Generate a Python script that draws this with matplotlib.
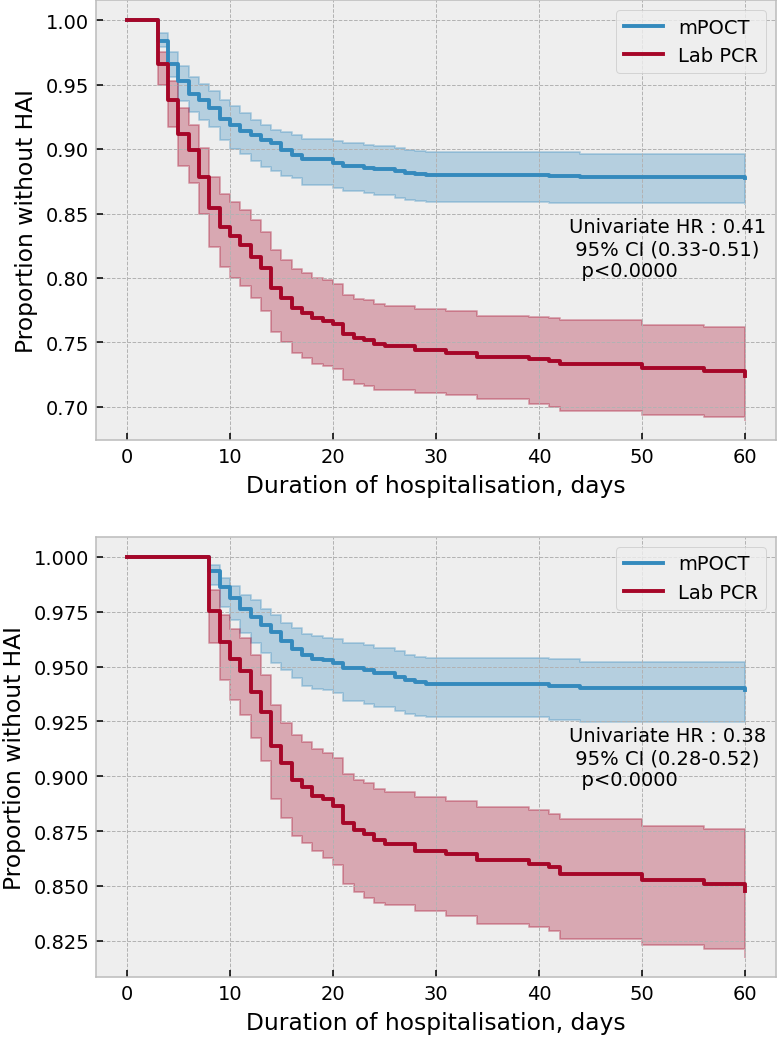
import matplotlib
matplotlib.use("Agg")
import matplotlib.pyplot as plt

# ---------------------------------------------------------------------------
# Kaplan-Meier estimates (step changes only, post steps)
# ---------------------------------------------------------------------------

# top panel - mPOCT
top_poct_t = [0, 3, 4, 5, 6, 7, 8, 9, 10, 11, 12, 13, 14, 15, 16, 17, 20, 21,
              23, 24, 26, 27, 28, 29, 41, 44, 60]
top_poct_s = [1.0, 0.984, 0.966, 0.953, 0.943, 0.938, 0.9315, 0.923, 0.9186,
              0.914, 0.911, 0.907, 0.9044, 0.899, 0.895, 0.892, 0.8893, 0.8867,
              0.8854, 0.8846, 0.8828, 0.8818, 0.8805, 0.8797, 0.8792, 0.878, 0.8775]
top_poct_hi = [1.0, 0.990, 0.975, 0.9646, 0.9556, 0.9504, 0.9447, 0.938, 0.9336,
               0.928, 0.9225, 0.919, 0.915, 0.913, 0.9112, 0.9079, 0.906, 0.9043,
               0.9035, 0.9022, 0.901, 0.8995, 0.8985, 0.8978, 0.8975, 0.8965, 0.8965]
top_poct_lo = [1.0, 0.979, 0.9556, 0.9375, 0.9284, 0.9225, 0.9168, 0.907, 0.900,
               0.896, 0.891, 0.886, 0.883, 0.879, 0.8776, 0.8725, 0.870, 0.8673,
               0.866, 0.8647, 0.862, 0.8608, 0.8596, 0.8588, 0.8585, 0.858, 0.8575]

# top panel - Lab PCR
top_pcr_t = [0, 3, 4, 5, 6, 7, 8, 9, 10, 11, 12, 13, 14, 15, 16, 17, 18, 19, 20,
             21, 22, 23, 24, 25, 28, 31, 34, 39, 41, 42, 50, 56, 60]
top_pcr_s = [1.0, 0.966, 0.938, 0.912, 0.8995, 0.878, 0.854, 0.8395, 0.8327,
             0.8255, 0.8164, 0.8074, 0.7919, 0.7846, 0.7769, 0.773, 0.7691, 0.7668,
             0.764, 0.7562, 0.7536, 0.7518, 0.7487, 0.7472, 0.744, 0.7419, 0.7385,
             0.7372, 0.736, 0.733, 0.730, 0.728, 0.7243]
top_pcr_hi = [1.0, 0.975, 0.953, 0.9315, 0.919, 0.9005, 0.878, 0.865, 0.859,
              0.8526, 0.8448, 0.8358, 0.8216, 0.8138, 0.8068, 0.8035, 0.8001, 0.7983,
              0.795, 0.7872, 0.7841, 0.7828, 0.7795, 0.7784, 0.7758, 0.7742, 0.7708,
              0.7695, 0.769, 0.7672, 0.7638, 0.762, 0.762]
top_pcr_lo = [1.0, 0.9496, 0.9168, 0.887, 0.874, 0.850, 0.8242, 0.8087, 0.800,
              0.7939, 0.7846, 0.7743, 0.7583, 0.750, 0.7422, 0.7376, 0.7337, 0.7319,
              0.7293, 0.7208, 0.7182, 0.7164, 0.713, 0.713, 0.711, 0.709, 0.706,
              0.702, 0.700, 0.697, 0.694, 0.692, 0.6896]

# bottom panel - mPOCT
bot_poct_t = [0, 8, 9, 10, 11, 12, 13, 14, 15, 16, 17, 18, 19, 20, 21, 23, 24,
              26, 27, 28, 29, 41, 44, 60]
bot_poct_s = [1.0, 0.9936, 0.9864, 0.9811, 0.9765, 0.9727, 0.9689, 0.9656, 0.9616,
              0.9582, 0.9553, 0.9535, 0.953, 0.9515, 0.9492, 0.9485, 0.947, 0.9451,
              0.9437, 0.943, 0.942, 0.9412, 0.9401, 0.9394]
bot_poct_hi = [1.0, 0.9962, 0.9906, 0.9867, 0.9826, 0.9803, 0.9765, 0.9735, 0.970,
               0.9676, 0.9648, 0.9638, 0.9632, 0.9626, 0.9606, 0.9598, 0.9586, 0.9571,
               0.9555, 0.9545, 0.954, 0.9535, 0.9523, 0.9523]
bot_poct_lo = [1.0, 0.9871, 0.9773, 0.9712, 0.9652, 0.9606, 0.956, 0.9515, 0.9485,
               0.9447, 0.9412, 0.9398, 0.9394, 0.9379, 0.9341, 0.9329, 0.9318, 0.9298,
               0.9283, 0.9277, 0.9268, 0.9255, 0.9247, 0.9247]

# bottom panel - Lab PCR
bot_pcr_t = [0, 8, 9, 10, 11, 12, 13, 14, 15, 16, 17, 18, 19, 20, 21, 22, 23, 24,
             25, 28, 31, 34, 39, 41, 42, 50, 56, 60]
bot_pcr_s = [1.0, 0.9755, 0.9614, 0.9536, 0.9479, 0.9385, 0.9292, 0.914, 0.9062,
             0.8985, 0.8952, 0.8909, 0.8894, 0.8864, 0.8788, 0.8755, 0.8735, 0.8709,
             0.869, 0.8660, 0.8647, 0.8616, 0.8601, 0.8586, 0.8556, 0.8526, 0.8507,
             0.8477]
bot_pcr_hi = [1.0, 0.9848, 0.9735, 0.967, 0.9629, 0.9553, 0.9462, 0.9326, 0.9245,
              0.919, 0.9157, 0.9125, 0.9106, 0.9083, 0.9011, 0.8985, 0.897, 0.8944,
              0.8929, 0.8905, 0.8889, 0.8859, 0.8844, 0.883, 0.8803, 0.8775, 0.876,
              0.876]
bot_pcr_lo = [1.0, 0.9606, 0.9439, 0.9348, 0.928, 0.9174, 0.9068, 0.8898, 0.8811,
              0.8727, 0.8697, 0.8659, 0.8629, 0.8594, 0.8508, 0.847, 0.8447, 0.8424,
              0.8413, 0.8386, 0.8364, 0.8326, 0.8311, 0.8292, 0.826, 0.823, 0.8212,
              0.8174]

top_text = "Univariate HR : 0.41\n 95% CI (0.33-0.51)\n  p<0.0000"
bot_text = "Univariate HR : 0.38\n 95% CI (0.28-0.52)\n  p<0.0000"

BLUE = '#348ABD'
RED = '#A60628'

plt.style.use('bmh')

fig, axes = plt.subplots(2, 1, figsize=(5.55, 7.414), dpi=140)
fig.subplots_adjust(left=0.1236, right=0.9987, top=0.999, bottom=0.0575, hspace=0.2195)


def km_panel(ax, series, note, note_y, ylim):
    for t, s, lo, hi, color, label in series:
        ax.step(t, s, where='post', color=color, linewidth=2, label=label)
        ax.fill_between(t, lo, hi, step='post', color=color, alpha=0.3, linewidth=1.0)
    ax.set_xlim(-3, 63)
    ax.set_ylim(*ylim)
    ax.set_xticks([0, 10, 20, 30, 40, 50, 60])
    ax.set_xlabel('Duration of hospitalisation, days')
    ax.set_ylabel('Proportion without HAI')
    ax.legend(loc='upper right')
    ax.text(42.9, note_y, note, va='top', ha='left')


km_panel(axes[0],
         [(top_poct_t, top_poct_s, top_poct_lo, top_poct_hi, BLUE, 'mPOCT'),
          (top_pcr_t, top_pcr_s, top_pcr_lo, top_pcr_hi, RED, 'Lab PCR')],
         top_text, 0.847, (0.6741, 1.0155))

km_panel(axes[1],
         [(bot_poct_t, bot_poct_s, bot_poct_lo, bot_poct_hi, BLUE, 'mPOCT'),
          (bot_pcr_t, bot_pcr_s, bot_pcr_lo, bot_pcr_hi, RED, 'Lab PCR')],
         bot_text, 0.9228, (0.8083, 1.0091))

fig.savefig('out.png', dpi=140)
